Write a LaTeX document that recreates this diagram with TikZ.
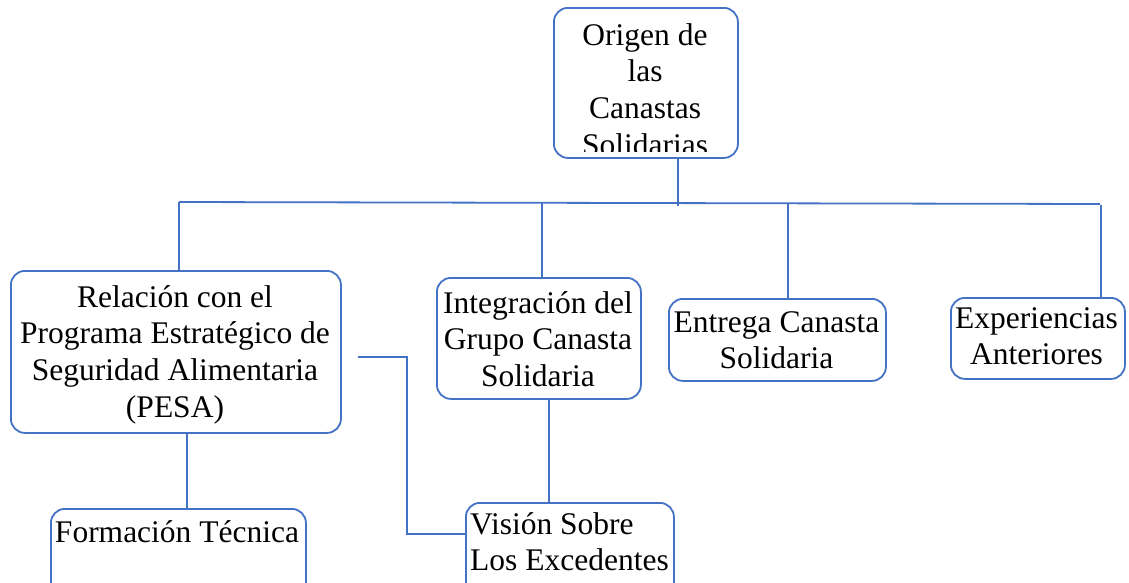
\documentclass[tikz,border=0pt]{standalone}
\usepackage{fontspec}
\setmainfont{Liberation Serif}
\definecolor{boxblue}{RGB}{68,114,196}
\newcommand\mlinesc[1]{\begin{tabular}[t]{@{}c@{}}#1\end{tabular}}
\newcommand\mlinesl[1]{\begin{tabular}[t]{@{}l@{}}#1\end{tabular}}
\tikzset{
  box/.style={draw=boxblue, line width=1.8pt, rounded corners=14pt, inner sep=0pt, anchor=north west, fill=none},
  conn/.style={draw=boxblue, line width=1.8pt},
  txt/.style={inner sep=0pt, font=\fontsize{31.5}{36.7}\selectfont, text=black}
}
\begin{document}
\begin{tikzpicture}[x=1pt, y=-1pt]
\clip (0,0) rectangle (1129,582);
\fill[white] (0,0) rectangle (1129,582);
% boxes
\node[box, minimum width=184pt, minimum height=150pt] (top) at (553,7) {};
\node[box, minimum width=330pt, minimum height=162pt] (rel) at (10,270) {};
\node[box, minimum width=204pt, minimum height=121pt] (int) at (436,277) {};
\node[box, minimum width=217pt, minimum height=82pt] (ent) at (668,298) {};
\node[box, minimum width=174pt, minimum height=81pt] (exp) at (950,297) {};
\node[box, minimum width=255pt, minimum height=110pt] (form) at (50,508) {};
\node[box, minimum width=208pt, minimum height=110pt] (vis) at (465,502) {};
% texts
\begin{scope}
\clip (553,7) rectangle (737,151);
\node[txt, anchor=base] (topT) at (645,45) {\mlinesc{Origen de\\las\\Canastas\\Solidarias}};
\end{scope}
\node[txt, anchor=base] (relT) at (175,307) {\mlinesc{Relación con el\\Programa Estratégico de\\Seguridad Alimentaria\\(PESA)}};
\node[txt, anchor=base] (intT) at (538,313) {\mlinesc{Integración del\\Grupo Canasta\\Solidaria}};
\node[txt, anchor=base] (entT) at (776.5,332) {\mlinesc{Entrega Canasta\\Solidaria}};
\node[txt, anchor=base] (expT) at (1036.5,328) {\mlinesc{Experiencias\\Anteriores}};
\node[txt, anchor=base] (formT) at (177,542) {\mlinesc{Formación Técnica}};
\node[txt, anchor=base west] (visT) at (470,534) {\mlinesl{Visión Sobre\\Los Excedentes}};
% connectors
\coordinate (hl) at (179,202);
\coordinate (hr) at (1100,204);
\coordinate (stem) at (678,206);
\coordinate (dint) at (542,202.7);
\coordinate (dent) at (788,203.3);
\coordinate (dexp) at (1101,205);
\coordinate (dform) at (187,0);
\coordinate (dvis) at (549,0);
\coordinate (e0) at (358,357);
\coordinate (e1) at (407,534);
\draw[conn] (top.south -| stem) -- (stem);
\draw[conn] (hl) -- (hr);
\draw[conn] (hl) -- (rel.north -| hl);
\draw[conn] (dint) -- (int.north -| dint);
\draw[conn] (dent) -- (ent.north -| dent);
\draw[conn] (dexp) -- (exp.north -| dexp);
\draw[conn] (rel.south -| dform) -- (form.north -| dform);
\draw[conn] (int.south -| dvis) -- (vis.north -| dvis);
\draw[conn] (e0) -- (e0 -| e1) -- (e1) -- (vis.west |- e1);
\end{tikzpicture}
\end{document}
